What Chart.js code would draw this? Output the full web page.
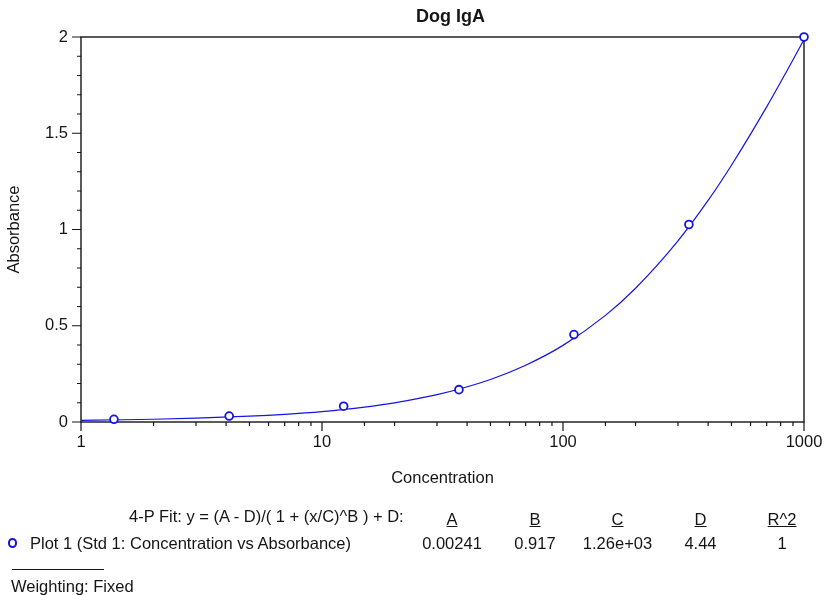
<!DOCTYPE html>
<html><head><meta charset="utf-8">
<script src="https://cdn.jsdelivr.net/npm/chart.js@4.4.1/dist/chart.umd.min.js"></script>
<style>
html,body{margin:0;padding:0;background:#fff;}
#wrap{position:relative;width:830px;height:595px;overflow:hidden;font-family:"Liberation Sans",Arial,sans-serif;color:#151515;}
#c{position:absolute;left:0;top:0;}
.t{position:absolute;font-size:16.5px;line-height:20px;white-space:nowrap;}
.ctr{transform:translateX(-50%);}
.u{text-decoration:underline;}
#marker{position:absolute;width:5.5px;height:5.5px;border:2px solid rgb(20,20,230);border-radius:50%;left:7.5px;top:538px;}
#rule{position:absolute;left:12px;top:568.5px;width:92px;height:1px;background:#151515;}
</style></head><body>
<div id="wrap">
<canvas id="c" width="830" height="595"></canvas>
<div id="bottom"></div>
<div id="marker"></div>
<div id="rule"></div>
</div>
<script>
// ---- data ----
const concentrations = [1.37, 4.12, 12.3, 37, 111, 333, 1000];
const absorbances = [0.014, 0.031, 0.082, 0.168, 0.454, 1.026, 2.0];
const curveX = [1, 1.5, 2, 3, 5, 7, 10, 15, 20, 30, 50, 70, 100, 150, 200, 300, 400, 500, 700, 850, 1000];
const curveY = [0.0088, 0.0116, 0.0144, 0.0198, 0.0301, 0.0400, 0.0544, 0.0775, 0.0996, 0.142, 0.221, 0.295, 0.398, 0.554, 0.695, 0.941, 1.151, 1.334, 1.637, 1.825, 1.987];
const xTickLabels = [1, 10, 100, 1000];
const yTickLabels = [0, 0.5, 1, 1.5, 2];
const chartTitle = 'Dog IgA';
const xTitle = 'Concentration';
const yTitle = 'Absorbance';
const fitFormula = '4-P Fit: y = (A - D)/( 1 + (x/C)^B ) + D:';
const fitHeaders = ['A', 'B', 'C', 'D', 'R^2'];
const fitValues = ['0.00241', '0.917', '1.26e+03', '4.44', '1'];
const legendLabel = 'Plot 1 (Std 1: Concentration vs Absorbance)';
const weightingLabel = 'Weighting: Fixed';

const BLUE = 'rgb(20,20,230)';
const INK = '#151515';
const FONT = '"Liberation Sans", Arial, sans-serif';

const isYMajor = v => yTickLabels.some(m => Math.abs(m - v) < 1e-6);
const isXMajor = v => xTickLabels.some(m => Math.abs(m - v) < 1e-6);

const framePlugin = {
  id: 'frame',
  beforeDatasetsDraw(chart) {
    const {ctx, chartArea: a, scales: {x, y}} = chart;
    ctx.save();
    ctx.strokeStyle = INK;
    ctx.lineWidth = 1.4;
    ctx.strokeRect(a.left, a.top, a.right - a.left, a.bottom - a.top);
    ctx.lineWidth = 1.2;
    ctx.beginPath();
    y.ticks.forEach(t => {
      const p = y.getPixelForValue(t.value);
      const len = isYMajor(t.value) ? 9 : 4;
      ctx.moveTo(a.left - len, p); ctx.lineTo(a.left, p);
    });
    x.ticks.forEach(t => {
      const p = x.getPixelForValue(t.value);
      const len = isXMajor(t.value) ? 9 : 4;
      ctx.moveTo(p, a.bottom); ctx.lineTo(p, a.bottom + len);
    });
    ctx.stroke();
    ctx.fillStyle = INK;
    ctx.font = 'bold 18px ' + FONT;
    ctx.textAlign = 'center';
    ctx.textBaseline = 'alphabetic';
    ctx.fillText(chartTitle, (a.left + a.right) / 2 + 8, 21.7);
    ctx.restore();
  }
};

new Chart(document.getElementById('c'), {
  type: 'scatter',
  data: {
    datasets: [
      {
        label: 'points',
        data: concentrations.map((c, i) => ({x: c, y: absorbances[i]})),
        showLine: false,
        pointStyle: 'circle',
        pointRadius: 3.9,
        pointBorderWidth: 1.8,
        pointBorderColor: BLUE,
        pointBackgroundColor: '#fff',
        clip: false
      },
      {
        label: 'fit',
        data: curveX.map((c, i) => ({x: c, y: curveY[i]})),
        showLine: true,
        borderColor: BLUE,
        borderWidth: 1.2,
        pointRadius: 0,
        cubicInterpolationMode: 'monotone',
        clip: false
      }
    ]
  },
  options: {
    responsive: false,
    animation: false,
    devicePixelRatio: 1,
    layout: {padding: {left: 0, top: 37, right: 26, bottom: 103}},
    plugins: {legend: {display: false}, tooltip: {enabled: false}, title: {display: false}},
    scales: {
      x: {
        type: 'logarithmic',
        min: 1, max: 1000,
        grid: {display: false, drawTicks: false, tickLength: 0},
        border: {display: false},
        ticks: {
          autoSkip: false, maxRotation: 0, minRotation: 0, padding: 11,
          color: INK, font: {family: FONT, size: 16.5},
          callback: v => isXMajor(v) ? String(v) : ''
        },
        title: {display: true, text: xTitle, color: INK, font: {family: FONT, size: 16.5}, padding: {top: 0, bottom: 4}},
        afterFit: s => { s.height = 70; s.paddingRight = 0; s.paddingLeft = 0; }
      },
      y: {
        type: 'linear',
        min: 0, max: 2,
        grid: {display: false, drawTicks: false, tickLength: 0},
        border: {display: false},
        ticks: {
          stepSize: 0.1, autoSkip: false, padding: 13,
          color: INK, font: {family: FONT, size: 16.5},
          callback: v => isYMajor(v) ? String(Math.round(v * 10) / 10) : ''
        },
        title: {display: true, text: yTitle, color: INK, font: {family: FONT, size: 16.5}, padding: {top: 4.5, bottom: 0}},
        afterFit: s => { s.width = 81; s.paddingTop = 0; s.paddingBottom = 0; }
      }
    }
  },
  plugins: [framePlugin]
});

// ---- fit table below the chart ----
const bottom = document.getElementById('bottom');
function addText(txt, left, top, cls) {
  const d = document.createElement('div');
  d.className = 't ' + (cls || '');
  d.textContent = txt;
  d.style.left = left + 'px';
  d.style.top = top + 'px';
  bottom.appendChild(d);
}
const colCenters = [452, 535, 617.5, 700.5, 782];
addText(fitFormula, 129, 506);
fitHeaders.forEach((h, i) => addText(h, colCenters[i], 508.6, 'ctr u'));
fitValues.forEach((v, i) => addText(v, colCenters[i], 532.6, 'ctr'));
addText(legendLabel, 30, 532.6);
addText(weightingLabel, 11, 576);
</script>
</body></html>
